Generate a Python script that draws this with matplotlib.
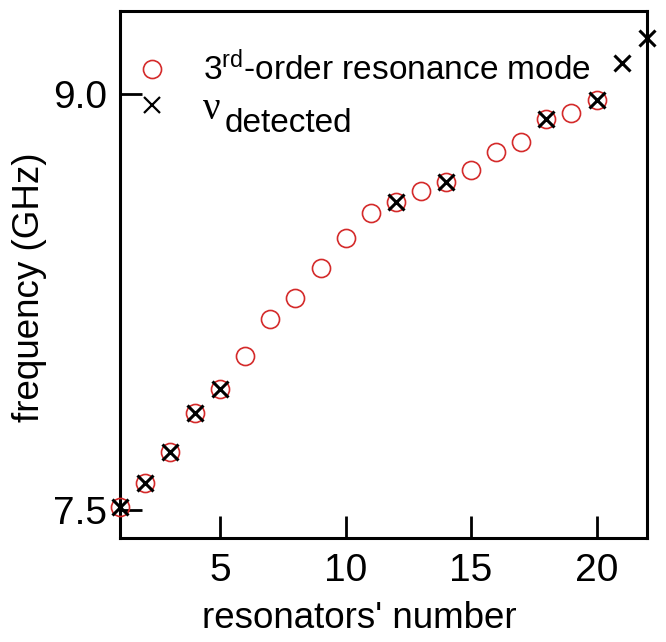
import matplotlib
matplotlib.use("Agg")
import matplotlib.pyplot as plt

plt.rcParams['font.family'] = ['Liberation Sans', 'DejaVu Sans']
plt.rcParams['mathtext.fontset'] = 'custom'
plt.rcParams['mathtext.rm'] = 'Liberation Sans'
plt.rcParams['mathtext.it'] = 'Liberation Sans:italic'

# 3rd-order resonance frequencies of each resonator (GHz)
res_number = list(range(1, 21))
res_freq = [7.512, 7.598, 7.709, 7.852, 7.937, 8.055, 8.189, 8.265, 8.375, 8.483,
            8.573, 8.612, 8.650, 8.683, 8.726, 8.790, 8.828, 8.910, 8.931, 8.978]

# detected frequencies
det_number = [1, 2, 3, 4, 5, 12, 14, 18, 20, 21, 22]
det_freq = [7.512, 7.598, 7.709, 7.852, 7.937, 8.612, 8.683, 8.910, 8.978, 9.113, 9.204]

red = '#d42a2a'
circ_style = dict(marker='o', ms=13, mfc='none', mec=red, mew=1.2, ls='none')
cross_style = dict(marker='x', ms=12, mec='black', mew=2.2, ls='none')

fig = plt.figure(figsize=(6.66, 6.42), dpi=100)
ax = fig.add_axes([0.180, 0.162, 0.791, 0.821])

ax.plot(res_number, res_freq, clip_on=False, zorder=3, **circ_style)
ax.plot(det_number, det_freq, clip_on=False, zorder=4, **cross_style)

ax.set_xlim(1, 22)
ax.set_ylim(7.4, 9.3)
ax.set_xticks([5, 10, 15, 20])
ax.set_yticks([7.5, 9.0])
ax.set_yticklabels(['7.5', '9.0'])
ax.tick_params(direction='in', length=16, width=2, labelsize=28)
ax.tick_params(axis='x', pad=11)
ax.tick_params(axis='y', pad=9)
for s in ax.spines.values():
    s.set_linewidth(2.2)

ax.set_xlabel("resonators' number", fontsize=26.5)
ax.set_ylabel('frequency (GHz)', fontsize=26.5)
ax.xaxis.set_label_coords(0.454, -0.12)
ax.yaxis.set_label_coords(-0.138, 0.476)

# key, drawn by hand so the subscript can stay large
ax.plot([0.061], [0.890], transform=ax.transAxes, clip_on=False, **circ_style)
ax.plot([0.061], [0.822], transform=ax.transAxes, mew=1.6,
        **{k: v for k, v in cross_style.items() if k != 'mew'})
ax.text(0.157, 0.869, '3$^{\\mathrm{rd}}$-order resonance mode', transform=ax.transAxes,
        fontsize=24, va='baseline', ha='left')
ax.text(0.157, 0.795, 'ν', transform=ax.transAxes, fontsize=28,
        family='Liberation Serif', va='baseline', ha='left')
ax.text(0.199, 0.771, 'detected', transform=ax.transAxes, fontsize=24,
        va='baseline', ha='left')

fig.savefig('out.png', dpi=100)
